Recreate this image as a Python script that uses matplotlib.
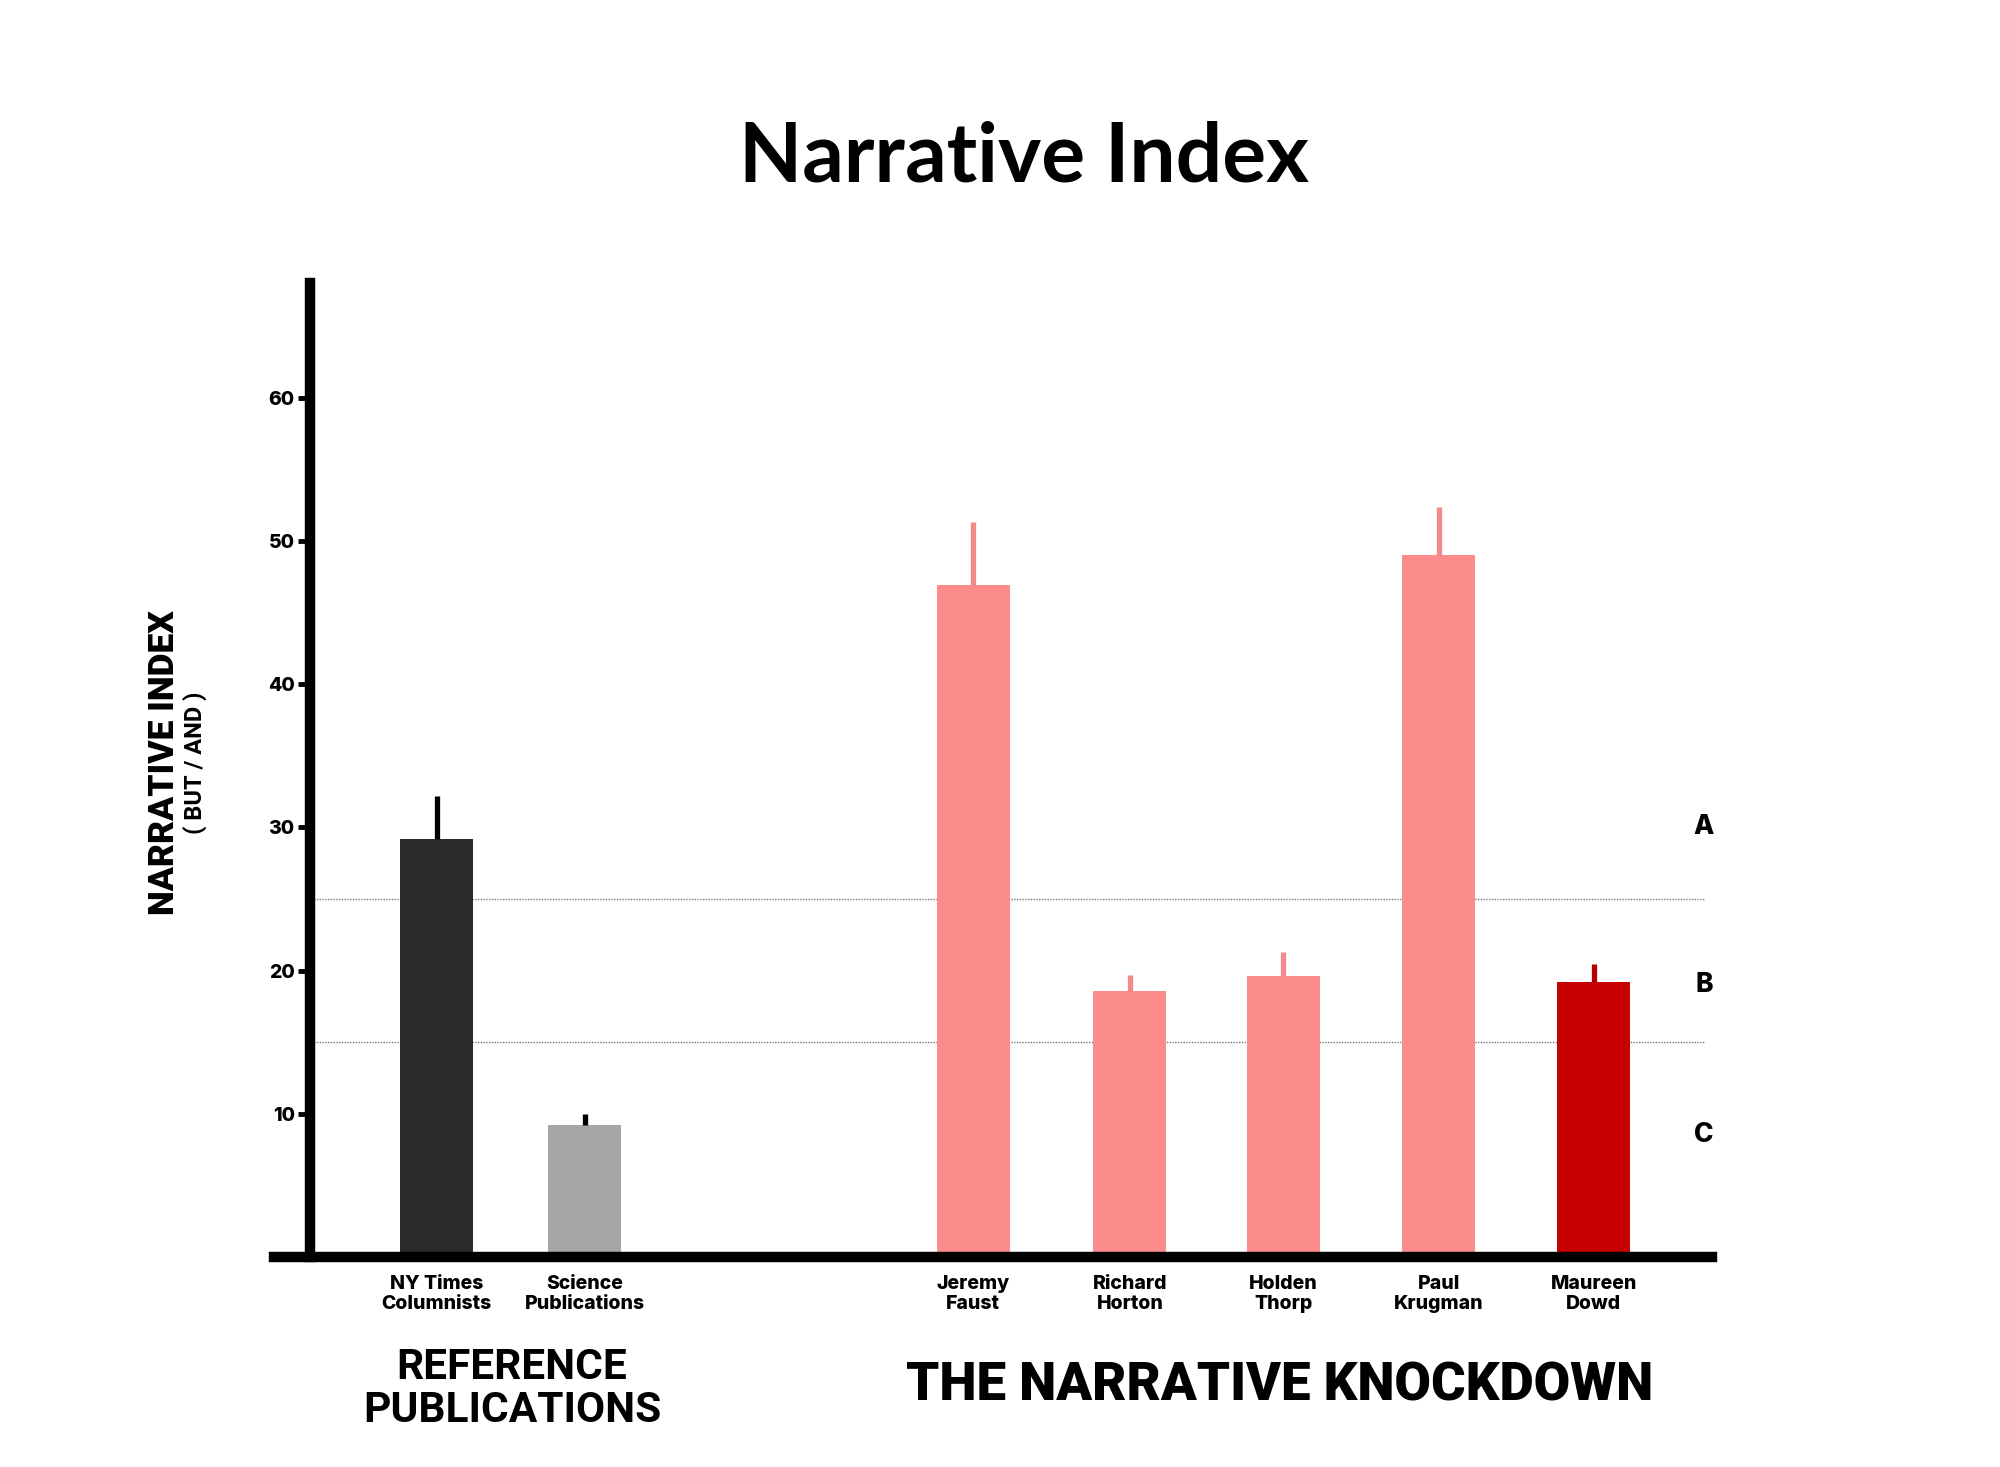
import matplotlib
matplotlib.use('Agg')
import matplotlib.pyplot as plt
from matplotlib import font_manager

# data
names = ['NY Times\nColumnists', 'Science\nPublications', 'Jeremy\nFaust', 'Richard\nHorton',
         'Holden\nThorp', 'Paul\nKrugman', 'Maureen\nDowd']
values = [29.2, 9.2, 46.9, 18.6, 19.6, 49.0, 19.2]
errors = [3.0, 0.8, 4.4, 1.1, 1.7, 3.4, 1.3]
bar_colors = ['#2a2a2a', '#a6a6a6', '#fc8b8b', '#fc8b8b', '#fc8b8b', '#fc8b8b', '#c60000']
err_colors = ['#000000', '#000000', '#f28a8a', '#f28a8a', '#f28a8a', '#f28a8a', '#b00000']
yticks = [10, 20, 30, 40, 50, 60]
bands = [15, 25]
band_labels = ['A', 'B', 'C']

# layout
xpos = [0, 0.955, 3.46, 4.47, 5.46, 6.46, 7.46]
band_label_y = [30, 19, 8.5]

have = {f.name for f in font_manager.fontManager.ttflist}
narrow = 'Liberation Sans Narrow' if 'Liberation Sans Narrow' in have else 'Roboto'
geo = 'Lato' if 'Lato' in have else 'DejaVu Sans'
heavy = 'Inter' if 'Inter' in have else geo

fig = plt.figure(figsize=(20, 14.67), dpi=100)
ax = fig.add_axes([0.1345, 0.143, 0.7275, 0.664])

ax.bar(xpos, values, width=0.47, color=bar_colors, zorder=2)
ax.vlines(xpos, values, [v + e for v, e in zip(values, errors)], colors=err_colors,
          lw=3.8, zorder=2)

for b in bands:
    ax.plot([-0.83, 8.17], [b, b], ls=(0, (1, 1)), color='#777777', lw=1, zorder=1)
for lab, y in zip(band_labels, band_label_y):
    ax.text(8.17, y, lab, ha='center', va='center', fontsize=19, fontweight='heavy',
            family=heavy)

ax.set_xlim(-1.08, 8.30)
ax.set_ylim(0, 68.0)

for s in ['top', 'right']:
    ax.spines[s].set_visible(False)
ax.spines['left'].set_position(('data', -0.816))
ax.spines['left'].set_linewidth(7.5)
ax.spines['bottom'].set_linewidth(7.5)
ax.spines['bottom'].set_bounds(-1.05, 8.22)
ax.spines['bottom'].set_zorder(3)
ax.spines['left'].set_zorder(3)

ax.set_yticks(yticks)
ax.set_yticklabels([str(t) for t in yticks], fontsize=14, fontweight='heavy', family=heavy)
ax.tick_params(axis='y', length=9, width=3.5, pad=2)
ax.set_xticks(xpos)
ax.set_xticklabels(names, fontsize=14, fontweight='heavy', family=heavy, linespacing=1.12)
ax.tick_params(axis='x', length=0, pad=13)

fig.text(0.512, 0.892, 'Narrative Index', ha='center', va='center', fontsize=59,
         fontweight='bold', family=geo)
fig.text(0.082, 0.48, 'NARRATIVE INDEX', ha='center', va='center', rotation=90,
         fontsize=25.5, fontweight='black', family=narrow)
fig.text(0.0975, 0.48, '( BUT / AND )', ha='center', va='center', rotation=90,
         fontsize=17, fontweight='bold', family=narrow)
fig.text(0.256, 0.053, 'REFERENCE\nPUBLICATIONS', ha='center', va='center', fontsize=30.5,
         fontweight='bold', family=narrow, linespacing=1.05)
fig.text(0.640, 0.055, 'THE NARRATIVE KNOCKDOWN', ha='center', va='center', fontsize=38,
         fontweight='black', family=narrow)

fig.savefig('out.png', dpi=100, facecolor='white')
